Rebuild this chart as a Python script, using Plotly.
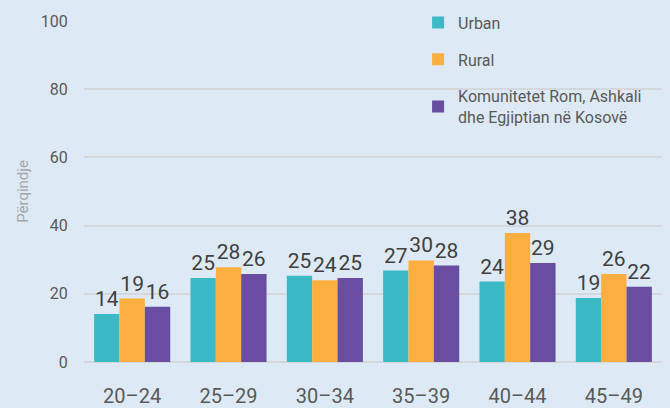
import plotly.graph_objects as go

age_groups = ["20–24", "25–29", "30–34", "35–39", "40–44", "45–49"]
urban = [14.1, 24.6, 25.3, 26.8, 23.6, 18.8]
rural = [18.6, 27.8, 24.0, 29.8, 37.8, 25.8]
roma = [16.2, 25.8, 24.6, 28.3, 29.0, 22.1]

series = [
    ("Urban", urban, "#3BBAC6"),
    ("Rural", rural, "#FBAF40"),
    ("Komunitetet Rom, Ashkali<br>dhe Egjiptian në Kosovë", roma, "#684DA0"),
]

fig = go.Figure()
for i, (name, vals, color) in enumerate(series):
    fig.add_trace(
        go.Bar(
            x=age_groups,
            y=vals,
            name=name,
            legendgroup=f"g{i}",
            marker=dict(color=color, line=dict(width=0)),
            text=[f"{v:.0f}" for v in vals],
            textposition="outside",
            cliponaxis=False,
            textfont=dict(size=21, color="#404040", family="Roboto"),
        )
    )

fig.update_layout(
    width=670,
    height=408,
    paper_bgcolor="#DDEAF5",
    plot_bgcolor="#DDEAF5",
    barmode="group",
    bargap=0.21,
    bargroupgap=0,
    margin=dict(l=84, r=8, t=21, b=46, autoexpand=False),
    font=dict(family="Roboto", color="#595959"),
    legend=dict(
        x=0.578,
        y=1.045,
        xanchor="left",
        yanchor="top",
        bgcolor="rgba(0,0,0,0)",
        font=dict(size=16, color="#595959"),
        tracegroupgap=13,
        itemwidth=30,
    ),
    xaxis=dict(
        ticks="outside",
        ticklen=16,
        tickcolor="rgba(0,0,0,0)",
        tickfont=dict(size=20, color="#595959"),
        showline=False,
    ),
    yaxis=dict(
        range=[0, 100],
        dtick=20,
        showgrid=True,
        gridcolor="#D4D8DC",
        gridwidth=1.5,
        zeroline=True,
        zerolinecolor="#D4D8DC",
        zerolinewidth=1.5,
        ticks="outside",
        ticklen=12,
        tickcolor="rgba(0,0,0,0)",
        tickfont=dict(size=16, color="#595959"),
        title=dict(text="Përqindje", font=dict(size=15, color="#A6A6A6"), standoff=8),
    ),
)

fig.write_html(
    "out.html",
    config={"displayModeBar": False},
    post_script="document.body.style.margin='0';document.body.style.background='#DDEAF5';",
)
